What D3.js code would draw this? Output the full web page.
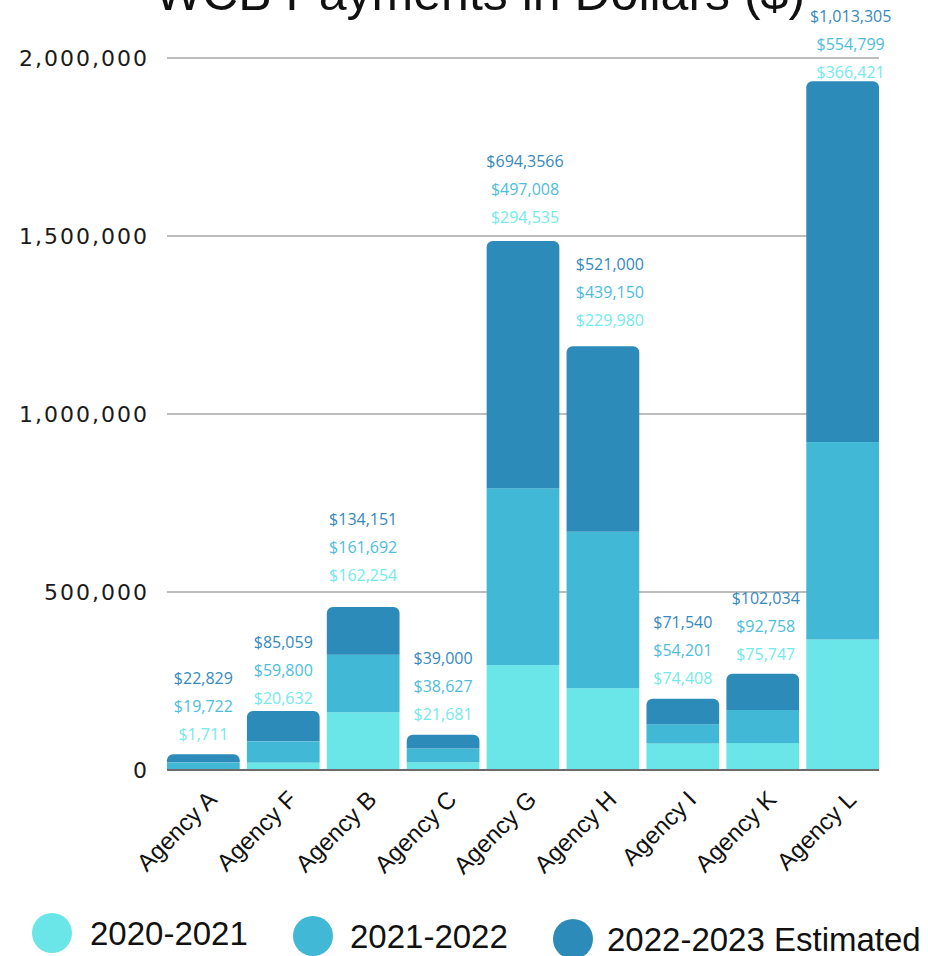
<!DOCTYPE html>
<html>
<head>
<meta charset="utf-8">
<script src="https://cdn.jsdelivr.net/npm/d3@7"></script>
<style>
  html, body { margin: 0; padding: 0; background: #fff; overflow: hidden; }
  svg { display: block; }
</style>
</head>
<body>
<svg id="chart" width="928" height="956"></svg>
<script>
// ---- data ----
const agencies = ["Agency A", "Agency F", "Agency B", "Agency C", "Agency G", "Agency H", "Agency I", "Agency K", "Agency L"];
const seriesNames = ["2020-2021", "2021-2022", "2022-2023 Estimated"];
const values2020 = [1711, 20632, 162254, 21681, 294535, 229980, 74408, 75747, 366421];
const values2021 = [19722, 59800, 161692, 38627, 497008, 439150, 54201, 92758, 554799];
const values2022 = [22829, 85059, 134151, 39000, 694356, 521000, 71540, 102034, 1013305];
// label text as printed on the chart (one label carries a typo in the source)
const labelOverrides2022 = {"Agency G": "$694,3566"};
const yTicks = [0, 500000, 1000000, 1500000, 2000000];
const titleText = "WCB Payments in Dollars ($)";

// ---- layout (not data) ----
const colors = ["#6ae6e8", "#41b8d5", "#2d8bba"];
const labelColors = ["#74e9ec", "#4dbdda", "#3589bd"];
const labelGap = [20, 13, 32, 20, 24, 26, 21, 19, 9];
const labelDx = [0, 0, 0, 0, 2, 7, 0, 3, 8];

const svg = d3.select("#chart");

const x = d3.scaleBand().domain(agencies).range([167, 879]).paddingInner(0.09).paddingOuter(0);
const y = d3.scaleLinear().domain([0, 2000000]).range([770, 58]);

const rows = agencies.map((a, i) => ({
  agency: a,
  "2020-2021": values2020[i],
  "2021-2022": values2021[i],
  "2022-2023 Estimated": values2022[i]
}));
const stack = d3.stack().keys(seriesNames)(rows);

// title
svg.append("text")
  .attr("x", 480).attr("y", 10)
  .attr("text-anchor", "middle")
  .attr("font-family", "Liberation Sans, Arial, sans-serif")
  .attr("font-size", 50)
  .attr("fill", "#111")
  .text(titleText);

// gridlines
svg.append("g").selectAll("line")
  .data(yTicks.filter(d => d > 0))
  .join("line")
  .attr("x1", 167).attr("x2", 879)
  .attr("y1", d => y(d)).attr("y2", d => y(d))
  .attr("stroke", "#bdbdbd").attr("stroke-width", 2);

// y tick labels
svg.append("g").selectAll("text")
  .data(yTicks)
  .join("text")
  .attr("x", 149).attr("y", d => y(d))
  .attr("dy", "0.36em")
  .attr("text-anchor", "end")
  .attr("font-family", "DejaVu Sans, sans-serif")
  .attr("font-size", 22)
  .attr("letter-spacing", 2)
  .attr("fill", "#1a1a1a")
  .text(d => d3.format(",")(d));

// bars
const r = 6;
stack.forEach((layer, li) => {
  const g = svg.append("g").attr("fill", colors[li]);
  layer.forEach((seg, i) => {
    const x0 = x(agencies[i]), w = x.bandwidth();
    const yTop = y(seg[1]), yBot = y(seg[0]);
    if (li === stack.length - 1) {
      const rr = Math.min(r, (yBot - yTop));
      const p = d3.path();
      p.moveTo(x0, yBot);
      p.lineTo(x0, yTop + rr);
      p.arcTo(x0, yTop, x0 + rr, yTop, rr);
      p.lineTo(x0 + w - rr, yTop);
      p.arcTo(x0 + w, yTop, x0 + w, yTop + rr, rr);
      p.lineTo(x0 + w, yBot);
      p.closePath();
      g.append("path").attr("d", p.toString());
    } else {
      g.append("rect")
        .attr("x", x0).attr("y", yTop)
        .attr("width", w).attr("height", Math.max(0, yBot - yTop));
    }
  });
});

// zero axis line
svg.append("line")
  .attr("x1", 167).attr("x2", 879)
  .attr("y1", y(0)).attr("y2", y(0))
  .attr("stroke", "#6b6b6b").attr("stroke-width", 2);

// value labels
const fmt = d3.format("$,");
const lg = svg.append("g")
  .attr("font-family", "Open Sans, Liberation Sans, sans-serif")
  .attr("font-size", 16)
  .attr("text-anchor", "middle");
agencies.forEach((a, i) => {
  const top = y(stack[stack.length - 1][i][1]);
  const cx = x(a) + x.bandwidth() / 2 + labelDx[i];
  const vals = [values2020[i], values2021[i], values2022[i]];
  vals.forEach((v, si) => {
    let txt = fmt(v);
    if (si === 2 && labelOverrides2022[a]) txt = labelOverrides2022[a];
    lg.append("text")
      .attr("x", cx)
      .attr("y", top - labelGap[i] - si * 28)
      .attr("dy", "0.36em")
      .attr("fill", labelColors[si])
      .text(txt);
  });
});

// x axis labels
svg.append("g").selectAll("text")
  .data(agencies)
  .join("text")
  .attr("transform", d => `translate(${x(d) + x.bandwidth() / 2 + 15},801) rotate(-45)`)
  .attr("text-anchor", "end")
  .attr("font-family", "Liberation Sans, Arial, sans-serif")
  .attr("font-size", 24)
  .attr("fill", "#111")
  .text(d => d);

// legend
const legendPos = [
  {cx: 52, cy: 933, tx: 90},
  {cx: 313, cy: 936, tx: 350},
  {cx: 573, cy: 939, tx: 607}
];
const leg = svg.append("g");
seriesNames.forEach((s, i) => {
  const p = legendPos[i];
  leg.append("circle").attr("cx", p.cx).attr("cy", p.cy).attr("r", 20).attr("fill", colors[i]);
  leg.append("text")
    .attr("x", p.tx).attr("y", p.cy)
    .attr("dy", "0.36em")
    .attr("font-family", "Liberation Sans, Arial, sans-serif")
    .attr("font-size", 33)
    .attr("fill", "#111")
    .text(s);
});
</script>
</body>
</html>
